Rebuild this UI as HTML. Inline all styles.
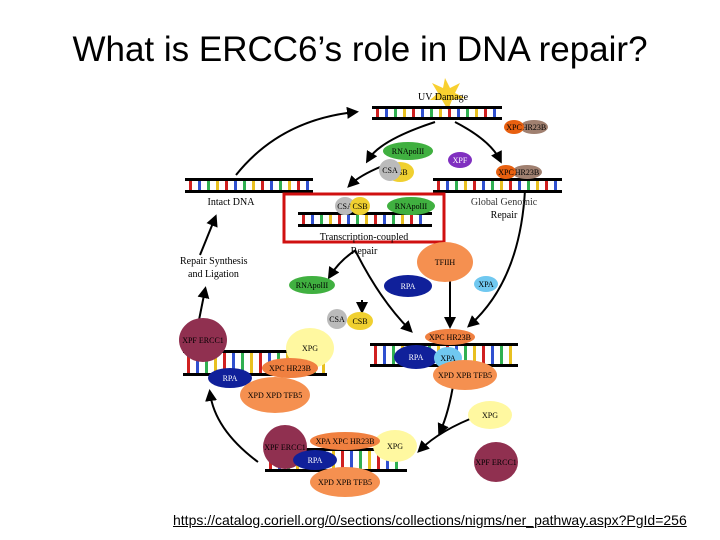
<!DOCTYPE html>
<html><head><meta charset="utf-8"><style>
body{margin:0;background:#fff;width:720px;height:540px;overflow:hidden;font-family:"Liberation Sans",sans-serif}
.t{position:absolute;left:0;width:720px;top:30px;text-align:center;font-size:35px;color:#000}
.l{position:absolute;left:173px;top:512px;font-size:14px;color:#000;text-decoration:underline}
svg{position:absolute;left:0;top:0}
</style></head><body>
<div class="t">What is ERCC6’s role in DNA repair?</div>
<svg id="s" width="720" height="540" font-family="Liberation Serif,serif" font-size="8">
<defs><marker id="a" markerWidth="6" markerHeight="6" refX="4" refY="3" orient="auto"><path d="M0,0L6,3L0,6z"/></marker></defs>
<g fill="none" stroke="#000" stroke-width="2" marker-end="url(#a)">
<path d="M236,175 Q280,120 355,112"/>
<path d="M435,122 Q380,140 368,160"/>
<path d="M385,165 Q360,175 350,185"/>
<path d="M455,122 Q490,140 500,160"/>
<path d="M525,190 Q520,280 470,325"/>
<path d="M355,250 Q380,300 410,330"/>
<path d="M450,270 L450,325"/>
<path d="M455,373 Q450,410 440,432"/>
<path d="M480,415 Q440,430 420,450"/>
<path d="M258,462 Q215,430 210,393"/>
<path d="M197,330 L205,290"/>
<path d="M200,255 L215,218"/>
<path d="M356,250 Q340,260 330,276"/>
<path d="M362,300 L362,310"/>
</g>
<polygon points="445,78 450,88 460,83 455,93 465,98 452,100 448,110 442,100 430,100 438,93 432,83 443,88" fill="#f8d030"/>
<text x="418" y="100" font-size="10">UV Damage</text>
<g id="dna"></g>
<rect x="284" y="194" width="160" height="48" fill="none" stroke="#d01010" stroke-width="3"/>
<text x="231" y="205" font-size="10" text-anchor="middle">Intact DNA</text>
<text x="504" y="205" font-size="10" text-anchor="middle" fill="#333">Global Genomic</text>
<text x="504" y="218" font-size="10" text-anchor="middle">Repair</text>
<text x="364" y="240" font-size="10" text-anchor="middle">Transcription-coupled</text>
<text x="364" y="254" font-size="10" text-anchor="middle">Repair</text>
<text x="180" y="264" font-size="10">Repair Synthesis</text>
<text x="188" y="277" font-size="10">and Ligation</text>
<g id="p"></g>
</svg>
<div class="l">https://catalog.coriell.org/0/sections/collections/nigms/ner_pathway.aspx?PgId=256</div>
<script>
var s=document.getElementById('dna'),p=document.getElementById('p'),N='http://www.w3.org/2000/svg';
function el(g,t,a,txt){var e=document.createElementNS(N,t);for(var k in a)e.setAttribute(k,a[k]);if(txt)e.textContent=txt;g.appendChild(e);return e}
var C=['#d02020','#3050d0','#30b050','#e8c020'];
function dna(x,y,w,h){for(var i=x+4,j=0;i<x+w-4;i+=9,j++){el(s,'rect',{x:i,y:y+2,width:3,height:h-4,fill:C[j%4]})}
el(s,'rect',{x:x,y:y,width:w,height:3,fill:'#000'});el(s,'rect',{x:x,y:y+h-3,width:w,height:3,fill:'#000'})}
dna(372,106,130,14);dna(185,178,128,15);dna(433,178,129,15);dna(298,212,134,15);
dna(183,350,144,26);dna(370,343,148,24);dna(265,448,142,24);
function ov(x,y,rx,ry,f,t,tc){el(p,'ellipse',{cx:x,cy:y,rx:rx,ry:ry,fill:f});if(t)el(p,'text',{x:x,y:y+3,'text-anchor':'middle',fill:tc||'#000'},t)}
ov(408,151,25,9,'#40b040','RNApolII');ov(534,127,14,7,'#a08070','HR23B');ov(514,127,10,7,'#e86010','XPC');
ov(460,160,12,8,'#8030c0','XPF','#fff');ov(400,172,14,10,'#f0d030','CSB');ov(390,170,11,11,'#bbb','CSA');
ov(527,172,15,7,'#a08070','HR23B');ov(506,172,10,7,'#e86010','XPC');
ov(345,206,10,9,'#bbb','CSA');ov(360,206,10,9,'#f0d030','CSB');ov(411,206,24,9,'#40b040','RNApolII');
ov(445,262,28,20,'#f59050','TFIIH');ov(408,286,24,11,'#10209a','RPA','#fff');ov(486,284,12,8,'#70c8f0','XPA');
ov(312,285,23,9,'#40b040','RNApolII');ov(337,319,10,10,'#bbb','CSA');ov(360,321,13,9,'#f0d030','CSB');
ov(450,337,25,8,'#f08040','XPC HR23B');ov(416,357,22,12,'#10209a','RPA','#fff');ov(448,358,14,11,'#70c8f0','XPA');ov(465,375,32,15,'#f59050','XPD XPB TFB5');
ov(490,415,22,14,'#fff8a0','XPG');ov(496,462,22,20,'#903050','XPF ERCC1','#000');
ov(203,340,24,22,'#903050','XPF ERCC1');ov(310,348,24,20,'#fff8a0','XPG');ov(290,368,28,10,'#f08040','XPC HR23B');ov(230,378,22,10,'#10209a','RPA','#fff');ov(275,395,35,18,'#f59050','XPD XPD TFB5');
ov(285,447,22,22,'#903050','XPF ERCC1');ov(395,446,22,16,'#fff8a0','XPG');ov(345,441,35,9,'#f08040','XPA XPC HR23B');ov(315,460,22,10,'#10209a','RPA','#fff');ov(345,482,35,15,'#f59050','XPD XPB TFB5');
</script>
</body></html>
